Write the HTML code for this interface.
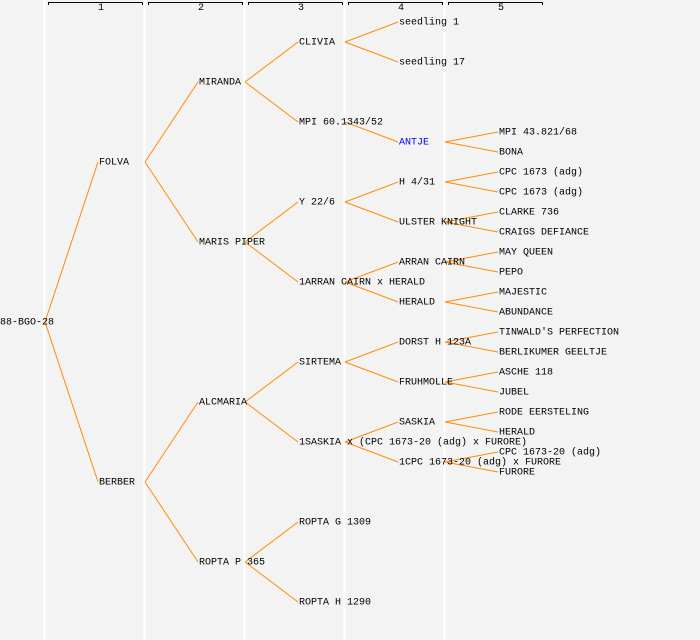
<!DOCTYPE html>
<html><head><meta charset="utf-8"><style>
html,body{margin:0;padding:0;background:#f3f3f3;}
svg{display:block;}
text{font-family:"Liberation Mono",monospace;font-size:10px;fill:#000;}
</style></head><body>
<svg width="700" height="640" viewBox="0 0 700 640" xmlns="http://www.w3.org/2000/svg">
<rect width="700" height="640" fill="#f3f3f3"/>
<g stroke="#fff" stroke-width="2">
<line x1="44.5" y1="0" x2="44.5" y2="640"/><line x1="144.5" y1="0" x2="144.5" y2="640"/>
<line x1="244.5" y1="0" x2="244.5" y2="640"/><line x1="344.5" y1="0" x2="344.5" y2="640"/>
<line x1="444.5" y1="0" x2="444.5" y2="640"/>
</g>
<g stroke="#000" stroke-width="1" fill="none">
<path d="M48.5 5V2.5H142.5V5"/><path d="M148.5 5V2.5H242.5V5"/><path d="M248.5 5V2.5H342.5V5"/>
<path d="M348.5 5V2.5H442.5V5"/><path d="M448.5 5V2.5H542.5V5"/>
</g>
<g style="font-size:8px" text-anchor="middle">
<text x="101" y="10">1</text><text x="201" y="10">2</text><text x="301" y="10">3</text><text x="401" y="10">4</text><text x="501" y="10">5</text>
</g>
<g stroke="#ff8c00" stroke-width="1" fill="none">
<path d="M45 322L98 162M45 322L98 482"/>
<path d="M145 162L198 82M145 162L198 242M145 482L198 402M145 482L198 562"/>
<path d="M245 82L298 42M245 82L298 122M245 242L298 202M245 242L298 282M245 402L298 362M245 402L298 442M245 562L298 522M245 562L298 602"/>
<path d="M345 42L398 22M345 42L398 62M345 122L398 142M345 202L398 182M345 202L398 222M345 282L398 262M345 282L398 302M345 362L398 342M345 362L398 382M345 442L398 422M345 442L398 462"/>
<path d="M445 142L498 132M445 142L498 152M445 182L498 172M445 182L498 192M445 222L498 212M445 222L498 232M445 262L498 252M445 262L498 272M445 302L498 292M445 302L498 312M445 342L498 332M445 342L498 352M445 382L498 372M445 382L498 392M445 422L498 412M445 422L498 432M445 462L498 452M445 462L498 472"/>
</g>
<g dominant-baseline="middle">
<text x="-6" y="322">C88-BGO-28</text>
<text x="99" y="162">FOLVA</text><text x="99" y="482">BERBER</text>
<text x="199" y="82">MIRANDA</text><text x="199" y="242">MARIS PIPER</text><text x="199" y="402">ALCMARIA</text><text x="199" y="562">ROPTA P 365</text>
<text x="299" y="42">CLIVIA</text><text x="299" y="122">MPI 60.1343/52</text><text x="299" y="202">Y 22/6</text><text x="299" y="282">1ARRAN CAIRN x HERALD</text>
<text x="299" y="362">SIRTEMA</text><text x="299" y="442">1SASKIA x (CPC 1673-20 (adg) x FURORE)</text><text x="299" y="522">ROPTA G 1309</text><text x="299" y="602">ROPTA H 1290</text>
<text x="399" y="22">seedling 1</text><text x="399" y="62">seedling 17</text><text x="399" y="142" style="fill:#0000ff">ANTJE</text>
<text x="399" y="182">H 4/31</text><text x="399" y="222">ULSTER KNIGHT</text><text x="399" y="262">ARRAN CAIRN</text><text x="399" y="302">HERALD</text>
<text x="399" y="342">DORST H 123A</text><text x="399" y="382">FRUHMOLLE</text><text x="399" y="422">SASKIA</text><text x="399" y="462">1CPC 1673-20 (adg) x FURORE</text>
<text x="499" y="132">MPI 43.821/68</text><text x="499" y="152">BONA</text><text x="499" y="172">CPC 1673 (adg)</text><text x="499" y="192">CPC 1673 (adg)</text>
<text x="499" y="212">CLARKE 736</text><text x="499" y="232">CRAIGS DEFIANCE</text><text x="499" y="252">MAY QUEEN</text><text x="499" y="272">PEPO</text>
<text x="499" y="292">MAJESTIC</text><text x="499" y="312">ABUNDANCE</text><text x="499" y="332">TINWALD'S PERFECTION</text><text x="499" y="352">BERLIKUMER GEELTJE</text>
<text x="499" y="372">ASCHE 118</text><text x="499" y="392">JUBEL</text><text x="499" y="412">RODE EERSTELING</text><text x="499" y="432">HERALD</text>
<text x="499" y="452">CPC 1673-20 (adg)</text><text x="499" y="472">FURORE</text>
</g>
</svg>
</body></html>
